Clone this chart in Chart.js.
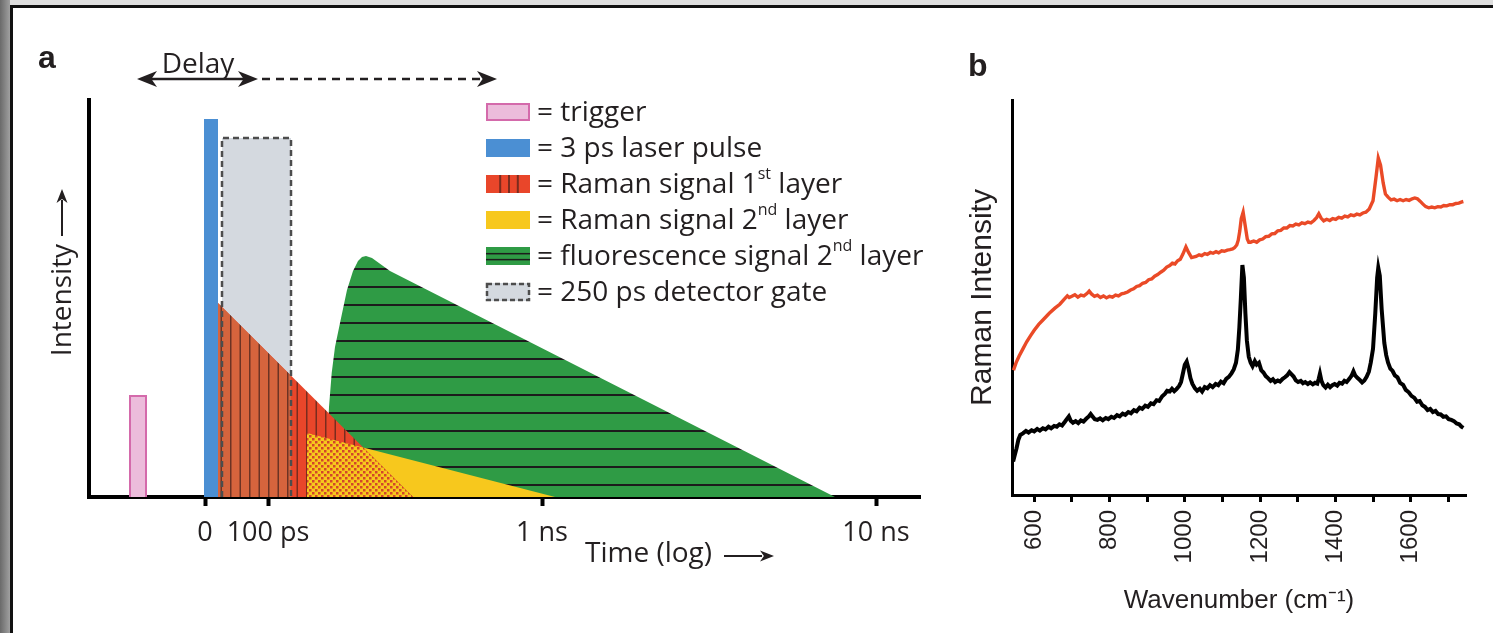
<!DOCTYPE html>
<html>
<head>
<meta charset="utf-8">
<script src="https://cdn.jsdelivr.net/npm/chart.js@4.4.1/dist/chart.umd.min.js"></script>
<style>
  html, body { margin: 0; padding: 0; width: 1493px; height: 633px; overflow: hidden; background: #dedede; }
  #edge { position: absolute; left: 0; top: 0; width: 10px; height: 633px; background: linear-gradient(to right, #6a6a6a, #a0a0a0); }
  #frame { position: absolute; left: 10px; top: 5px; width: 1483px; height: 628px; background: #fff; border-left: 3px solid #111; border-top: 3px solid #111; box-sizing: border-box; }
  #chartA { position: absolute; left: 0; top: 0; }
  #chartB { position: absolute; left: 940px; top: 0; }
</style>
</head>
<body>
<div id="edge"></div>
<div id="frame"></div>
<canvas id="chartA" width="940" height="633"></canvas>
<canvas id="chartB" width="553" height="633"></canvas>
<script>
// ---- panel a: schematic timing (arbitrary time units on a compressed log axis) ----
var timeTickValues = [11.6, 17.9, 45.3, 78.7];
var timeTickLabels = ['0', '100 ps', '1 ns', '10 ns'];

var triggerShape = [[4.1, 0], [4.1, 10.1], [5.7, 10.1], [5.7, 0]];
var laserShape = [[11.5, 37.8], [12.9, 37.8]];
var gateShape = [[13.3, 0], [13.3, 35.9], [20.2, 35.9], [20.2, 0]];
var raman1Shape = [[12.9, 19.4], [32.4, 0]];
var raman1GatedShape = [[12.9, 19.4], [20.2, 12.1]];
var raman2Shape = [[21.8, 6.4], [46.6, 0]];
var overlapShape = [[21.8, 6.4], [27.4, 4.95], [32.4, 0]];
var fluoShape = [[23.8, 0], [23.9, 6.7], [24.0, 9.0], [24.27, 12.4], [24.6, 15.0], [25.1, 17.4],
                 [25.8, 20.7], [26.4, 22.6], [26.9, 23.6], [27.3, 24.0], [27.7, 24.1], [28.3, 23.9],
                 [30.1, 22.6], [74.6, 0]];

var legendRows = [
  { key: 'trigger', parts: [{ t: '= trigger' }] },
  { key: 'laser', parts: [{ t: '= 3 ps laser pulse' }] },
  { key: 'raman1', parts: [{ t: '= Raman signal 1' }, { t: 'st', sup: true }, { t: ' layer' }] },
  { key: 'raman2', parts: [{ t: '= Raman signal 2' }, { t: 'nd', sup: true }, { t: ' layer' }] },
  { key: 'fluo', parts: [{ t: '= fluorescence signal 2' }, { t: 'nd', sup: true }, { t: ' layer' }] },
  { key: 'gate', parts: [{ t: '= 250 ps detector gate' }] }
];

// ---- panel b: Raman spectra, [wavenumber, intensity] ----
var wavenumberTicks = [600, 700, 800, 900, 1000, 1100, 1200, 1300, 1400, 1500, 1600, 1700];

var redSpectrum = [[545,31.6],[552,33.5],[560,35.2],[570,37.0],[580,38.8],[590,40.3],[600,41.7],[612,43.2],
  [625,44.5],[640,46.0],[655,47.3],[668,48.3],[680,49.6],[688,50.4],[693,50.0],[700,50.3],[708,50.7],
  [716,50.1],[724,50.6],[732,50.4],[740,51.0],[746,51.6],[752,50.9],[760,50.3],[768,50.6],[776,50.0],
  [784,50.4],[792,49.9],[800,50.3],[808,50.1],[816,50.6],[824,50.4],[832,50.9],[840,51.1],[848,51.4],
  [856,51.9],[864,52.2],[872,52.8],[880,53.0],[888,53.6],[896,53.8],[904,54.5],[912,54.7],[920,55.4],
  [928,55.8],[936,56.4],[944,56.9],[952,57.7],[960,58.1],[967,58.7],[974,58.5],[981,59.3],[988,59.7],
  [995,61.0],[1003,62.8],[1010,61.4],[1018,60.1],[1030,60.4],[1038,60.8],[1045,60.6],[1053,61.1],
  [1060,60.9],[1068,61.4],[1075,61.2],[1083,61.6],[1090,61.3],[1098,61.8],[1105,61.7],[1113,62.0],
  [1120,62.1],[1127,62.3],[1132,62.6],[1138,63.3],[1142,64.5],[1146,66.8],[1150,70.0],[1155,71.6],
  [1160,68.5],[1166,64.8],[1170,64.0],[1175,64.0],[1183,64.3],[1191,64.0],[1199,64.6],[1207,64.8],
  [1215,65.4],[1223,65.5],[1231,66.1],[1239,66.2],[1247,66.9],[1255,67.0],[1263,67.6],[1271,67.6],
  [1279,68.2],[1287,68.1],[1295,68.6],[1303,68.4],[1311,68.9],[1319,68.7],[1327,69.1],[1335,68.9],
  [1343,69.5],[1350,70.2],[1356,71.2],[1362,70.1],[1369,69.4],[1377,69.8],[1385,69.5],[1393,70.0],
  [1401,69.8],[1409,70.3],[1417,70.1],[1425,70.6],[1433,70.4],[1441,70.9],[1449,70.7],[1457,71.1],
  [1465,70.9],[1473,71.4],[1481,71.6],[1490,72.4],[1500,74.5],[1508,80.5],[1514,85.3],[1520,83.5],
  [1527,79.0],[1533,76.2],[1540,75.4],[1548,74.7],[1556,74.9],[1564,74.5],[1572,74.8],[1580,74.5],
  [1588,74.8],[1596,74.6],[1604,75.0],[1611,75.2],[1618,75.0],[1625,74.4],[1632,73.7],[1640,73.0],
  [1648,72.7],[1656,72.9],[1664,72.7],[1672,73.0],[1680,72.9],[1688,73.3],[1696,73.2],[1704,73.5],
  [1712,73.5],[1720,73.8],[1728,73.9],[1736,74.2],[1740,74.3]];

var blackSpectrum = [[544,8.5],[548,10.0],[553,11.8],[558,14.0],[563,15.2],[570,15.6],[578,16.2],[585,15.8],
  [593,16.4],[600,16.1],[608,16.7],[615,16.3],[623,16.9],[630,16.6],[638,17.3],[645,16.9],[653,17.5],
  [660,17.3],[667,17.9],[674,17.6],[682,18.6],[688,19.4],[692,19.9],[697,18.8],[703,18.3],[710,18.7],
  [717,18.2],[724,18.9],[731,18.6],[738,19.3],[745,19.9],[750,20.5],[755,19.9],[761,19.2],[768,19.0],
  [775,19.4],[782,18.9],[790,19.5],[797,19.2],[805,19.8],[812,19.5],[820,20.2],[827,19.9],[835,20.6],
  [842,20.3],[850,21.0],[857,20.7],[865,21.5],[872,21.2],[880,22.1],[887,21.8],[895,22.6],[902,22.3],
  [910,23.2],[917,23.0],[925,24.0],[932,23.8],[940,25.0],[947,25.6],[953,26.4],[960,26.2],[966,26.9],
  [972,26.3],[978,26.8],[985,27.6],[990,28.6],[996,31.2],[1000,33.0],[1005,33.8],[1010,32.0],
  [1015,29.6],[1020,28.2],[1027,27.0],[1033,26.4],[1040,26.9],[1046,26.2],[1053,27.3],[1060,27.0],
  [1067,27.8],[1074,27.3],[1082,28.1],[1089,27.8],[1096,28.7],[1103,28.3],[1110,29.4],[1117,29.9],
  [1124,30.8],[1130,31.8],[1136,33.5],[1141,36.8],[1145,42.5],[1149,50.0],[1153,58.2],[1157,55.0],
  [1161,46.0],[1165,39.0],[1170,35.0],[1175,33.5],[1180,32.6],[1186,33.9],[1191,33.0],[1197,33.5],
  [1203,31.6],[1209,31.0],[1215,30.1],[1221,29.6],[1228,28.9],[1234,29.3],[1240,28.6],[1247,29.0],
  [1253,28.7],[1260,29.4],[1266,29.8],[1272,30.3],[1278,31.1],[1283,30.6],[1289,30.0],[1295,29.0],
  [1301,28.6],[1308,28.9],[1314,28.3],[1320,28.6],[1327,28.1],[1333,28.5],[1340,28.0],[1346,28.4],
  [1352,28.2],[1356,29.5],[1359,30.7],[1363,28.9],[1368,27.8],[1374,27.2],[1380,27.9],[1386,27.3],
  [1392,27.8],[1398,28.1],[1405,27.7],[1411,28.4],[1418,28.2],[1424,28.9],[1430,28.6],[1437,29.4],
  [1443,30.2],[1448,31.3],[1453,30.2],[1459,29.6],[1465,29.1],[1471,28.5],[1477,29.0],[1483,29.9],
  [1489,31.2],[1494,33.5],[1500,37.0],[1506,46.0],[1511,55.0],[1514,57.5],[1518,55.5],[1523,47.0],
  [1530,38.5],[1535,35.4],[1540,33.5],[1546,32.0],[1552,31.4],[1558,30.3],[1565,29.8],[1572,28.4],
  [1580,27.9],[1587,26.6],[1595,26.0],[1602,25.1],[1610,24.6],[1617,23.6],[1624,23.8],[1631,22.7],
  [1638,22.3],[1645,21.5],[1652,21.8],[1659,21.0],[1666,21.3],[1673,20.5],[1680,20.4],[1687,19.8],
  [1694,19.9],[1701,19.2],[1708,19.0],[1715,18.7],[1722,18.1],[1729,17.9],[1735,17.3],[1740,17.0]];

var sansA = '"Open Sans"';
var sansB = '"Liberation Sans", Arial';
var ink = '#231f20';

var colors = {
  triggerFill: '#ecbcdb', triggerLine: '#d46aab', laser: '#4b8fd3', gate: '#d4d9df', gateLine: '#4d4d4d',
  red: '#e9462a', redGated: '#d6643d', yellow: '#f7c81d', green: '#2f9b45'
};

function makePattern(w, h, paint) {
  var c = document.createElement('canvas');
  c.width = w; c.height = h;
  var g = c.getContext('2d');
  paint(g);
  return g.createPattern(c, 'repeat');
}

var redStripes = makePattern(19, 4, function (g) {
  g.fillStyle = colors.red; g.fillRect(0, 0, 19, 4);
  g.fillStyle = '#7a2c1e'; g.fillRect(2, 0, 1.5, 4); g.fillRect(11.5, 0, 1.5, 4);
});
var redGatedStripes = makePattern(19, 4, function (g) {
  g.fillStyle = colors.redGated; g.fillRect(0, 0, 19, 4);
  g.fillStyle = '#6c3324'; g.fillRect(2, 0, 1.5, 4); g.fillRect(11.5, 0, 1.5, 4);
});
var greenLines = makePattern(4, 18, function (g) {
  g.fillStyle = colors.green; g.fillRect(0, 0, 4, 18);
  g.fillStyle = '#1c1c1c'; g.fillRect(0, 16, 4, 2);
});
var checker = makePattern(6, 6, function (g) {
  g.fillStyle = colors.yellow; g.fillRect(0, 0, 6, 6);
  g.fillStyle = '#d4452a'; g.fillRect(0, 0, 2.5, 2.5); g.fillRect(3, 3, 2.5, 2.5);
});

function toPoints(shape) {
  return shape.map(function (p) { return { x: p[0], y: p[1] }; });
}

function areaSet(label, shape, fillStyle, order) {
  return {
    label: label, data: toPoints(shape), showLine: true, fill: 'origin', order: order,
    backgroundColor: fillStyle, borderColor: 'rgba(0,0,0,0)', borderWidth: 0,
    pointRadius: 0, tension: 0
  };
}

function arrowHead(ctx, x, y, dir, len, half) {
  // dir: angle in radians the arrow points to
  ctx.save();
  ctx.translate(x, y);
  ctx.rotate(dir);
  ctx.beginPath();
  ctx.moveTo(0, 0);
  ctx.lineTo(-len, -half);
  ctx.lineTo(-len * 0.72, 0);
  ctx.lineTo(-len, half);
  ctx.closePath();
  ctx.fill();
  ctx.restore();
}

function drawParts(ctx, parts, x, y, size) {
  parts.forEach(function (p) {
    if (p.sup) {
      ctx.font = Math.round(size * 0.58) + 'px ' + sansA;
      ctx.fillText(p.t, x, y - size * 0.36);
    } else {
      ctx.font = size + 'px ' + sansA;
      ctx.fillText(p.t, x, y);
    }
    x += ctx.measureText(p.t).width;
  });
}

function drawSwatch(ctx, key, x, y, w, h) {
  ctx.save();
  if (key === 'trigger') {
    ctx.fillStyle = colors.triggerFill; ctx.fillRect(x, y, w, h);
    ctx.strokeStyle = colors.triggerLine; ctx.lineWidth = 2; ctx.strokeRect(x + 1, y + 1, w - 2, h - 2);
  } else if (key === 'laser') {
    ctx.fillStyle = colors.laser; ctx.fillRect(x, y, w, h);
  } else if (key === 'raman1') {
    ctx.fillStyle = colors.red; ctx.fillRect(x, y, w, h);
    ctx.fillStyle = '#7a2c1e';
    [0.3, 0.5, 0.7].forEach(function (f) { ctx.fillRect(x + w * f, y, 2, h); });
  } else if (key === 'raman2') {
    ctx.fillStyle = colors.yellow; ctx.fillRect(x, y, w, h);
  } else if (key === 'fluo') {
    ctx.fillStyle = colors.green; ctx.fillRect(x, y, w, h);
    ctx.fillStyle = '#1c1c1c';
    ctx.fillRect(x, y + h * 0.33, w, 1.5); ctx.fillRect(x, y + h * 0.66, w, 1.5);
  } else if (key === 'gate') {
    ctx.fillStyle = colors.gate; ctx.fillRect(x, y, w, h);
    ctx.strokeStyle = colors.gateLine; ctx.lineWidth = 2.5; ctx.setLineDash([5, 3]);
    ctx.strokeRect(x + 1, y + 1, w - 2, h - 2);
  }
  ctx.restore();
}

var annotationsA = {
  id: 'annotationsA',
  afterDraw: function (chart) {
    var ctx = chart.ctx;
    ctx.save();
    ctx.fillStyle = ink;
    ctx.strokeStyle = ink;

    // panel letter
    ctx.font = 'bold 32px ' + sansB;
    ctx.textBaseline = 'alphabetic';
    ctx.fillText('a', 38, 68);

    // Delay arrow
    ctx.font = '28px ' + sansA;
    ctx.textAlign = 'center';
    ctx.fillText('Delay', 198, 73);
    ctx.lineWidth = 2.5;
    ctx.beginPath(); ctx.moveTo(150, 79); ctx.lineTo(245, 79); ctx.stroke();
    arrowHead(ctx, 137, 79, Math.PI, 20, 8);
    arrowHead(ctx, 258, 79, 0, 20, 8);
    ctx.setLineDash([8, 6]);
    ctx.beginPath(); ctx.moveTo(262, 79); ctx.lineTo(480, 79); ctx.stroke();
    ctx.setLineDash([]);
    arrowHead(ctx, 497, 79, 0, 20, 8);

    // y title with arrow
    ctx.save();
    ctx.translate(71, 300);
    ctx.rotate(-Math.PI / 2);
    ctx.textAlign = 'center';
    ctx.textBaseline = 'alphabetic';
    ctx.fillText('Intensity', 0, 0);
    ctx.restore();
    ctx.lineWidth = 2;
    ctx.beginPath(); ctx.moveTo(62, 236); ctx.lineTo(62, 200); ctx.stroke();
    arrowHead(ctx, 62, 189, -Math.PI / 2, 14, 5.5);

    // x title with arrow
    ctx.textAlign = 'left';
    ctx.textBaseline = 'alphabetic';
    ctx.fillText('Time (log)', 585, 562);
    ctx.beginPath(); ctx.moveTo(724, 556); ctx.lineTo(762, 556); ctx.stroke();
    arrowHead(ctx, 774, 556, 0, 14, 5.5);

    // legend
    var rowY = [112, 148, 184, 220, 256, 292];
    ctx.textAlign = 'left';
    ctx.textBaseline = 'middle';
    legendRows.forEach(function (row, i) {
      drawSwatch(ctx, row.key, 486, rowY[i] - 9, 44, 18);
      ctx.fillStyle = ink;
      drawParts(ctx, row.parts, 537, rowY[i] + 1, 28);
    });
    ctx.restore();
  }
};

var annotationsB = {
  id: 'annotationsB',
  afterDraw: function (chart) {
    var ctx = chart.ctx;
    ctx.save();
    ctx.fillStyle = ink;
    ctx.font = 'bold 32px ' + sansB;
    ctx.textBaseline = 'alphabetic';
    ctx.fillText('b', 28, 76);
    ctx.restore();
  }
};

new Chart(document.getElementById('chartA'), {
  type: 'scatter',
  data: {
    datasets: [
      {
        label: 'detector gate outline', data: toPoints(gateShape), showLine: true, fill: false, order: 0,
        borderColor: colors.gateLine, borderWidth: 2.5, borderDash: [6, 4], pointRadius: 0, tension: 0
      },
      {
        label: 'trigger', data: toPoints(triggerShape), showLine: true, fill: 'origin', order: 1,
        backgroundColor: colors.triggerFill, borderColor: colors.triggerLine, borderWidth: 2,
        pointRadius: 0, tension: 0
      },
      areaSet('3 ps laser pulse', laserShape, colors.laser, 2),
      areaSet('Raman 1st over 2nd layer', overlapShape, checker, 3),
      areaSet('Raman 1st layer (gated)', raman1GatedShape, redGatedStripes, 4),
      areaSet('Raman signal 1st layer', raman1Shape, redStripes, 5),
      areaSet('Raman signal 2nd layer', raman2Shape, colors.yellow, 6),
      areaSet('fluorescence signal 2nd layer', fluoShape, greenLines, 7),
      areaSet('250 ps detector gate', gateShape, colors.gate, 8)
    ]
  },
  options: {
    responsive: false,
    animation: false,
    layout: { padding: { left: 0, right: 20, top: 100, bottom: 0 } },
    plugins: {
      legend: { display: false },
      tooltip: { enabled: false },
      filler: { drawTime: 'beforeDatasetDraw' }
    },
    scales: {
      x: {
        type: 'linear', min: 0, max: 83.1,
        afterFit: function (s) { s.height = 136; },
        afterBuildTicks: function (s) { s.ticks = timeTickValues.map(function (v) { return { value: v }; }); },
        ticks: {
          callback: function (v, i) { return timeTickLabels[i]; },
          font: { family: sansA, size: 27 }, color: ink, padding: 11, maxRotation: 0, autoSkip: false
        },
        grid: { drawOnChartArea: false, drawTicks: true, tickLength: 9, tickWidth: 4, tickColor: '#000' },
        border: { display: true, color: '#000', width: 4 }
      },
      y: {
        min: 0, max: 39.7,
        afterFit: function (s) { s.width = 89; },
        ticks: { display: false },
        grid: { drawOnChartArea: false, drawTicks: false },
        border: { display: true, color: '#000', width: 4 }
      }
    }
  },
  plugins: [annotationsA]
});

new Chart(document.getElementById('chartB'), {
  type: 'scatter',
  data: {
    datasets: [
      {
        label: 'upper spectrum', data: toPoints(redSpectrum),
        showLine: true, borderColor: '#ea4a27', borderWidth: 3.4, pointRadius: 0, tension: 0
      },
      {
        label: 'lower spectrum', data: toPoints(blackSpectrum),
        showLine: true, borderColor: '#000', borderWidth: 4, pointRadius: 0, tension: 0
      }
    ]
  },
  options: {
    responsive: false,
    animation: false,
    layout: { padding: { left: 0, right: 27, top: 100, bottom: 0 } },
    plugins: { legend: { display: false }, tooltip: { enabled: false } },
    scales: {
      x: {
        type: 'linear', min: 541, max: 1747,
        afterFit: function (s) { s.height = 138; },
        afterBuildTicks: function (s) { s.ticks = wavenumberTicks.map(function (v) { return { value: v }; }); },
        ticks: {
          callback: function (v) { return v % 200 === 0 ? String(v) : ''; },
          font: { family: sansB, size: 24 }, color: ink, minRotation: 90, maxRotation: 90,
          autoSkip: false, padding: 8
        },
        grid: { drawOnChartArea: false, drawTicks: true, tickLength: 7, tickWidth: 3, tickColor: '#000' },
        border: { display: true, color: '#000', width: 3 },
        title: {
          display: true, text: 'Wavenumber (cm\u207B\u00B9)', color: ink,
          font: { family: sansB, size: 26 }, padding: { top: 0, bottom: 17 }
        }
      },
      y: {
        min: 0, max: 100,
        afterFit: function (s) { s.width = 72; },
        ticks: { display: false },
        grid: { drawOnChartArea: false, drawTicks: false },
        border: { display: true, color: '#000', width: 3 },
        title: {
          display: true, text: 'Raman Intensity', color: ink,
          font: { family: sansB, size: 30 }, padding: { top: 25, bottom: 0 }
        }
      }
    }
  },
  plugins: [annotationsB]
});
</script>
</body>
</html>
